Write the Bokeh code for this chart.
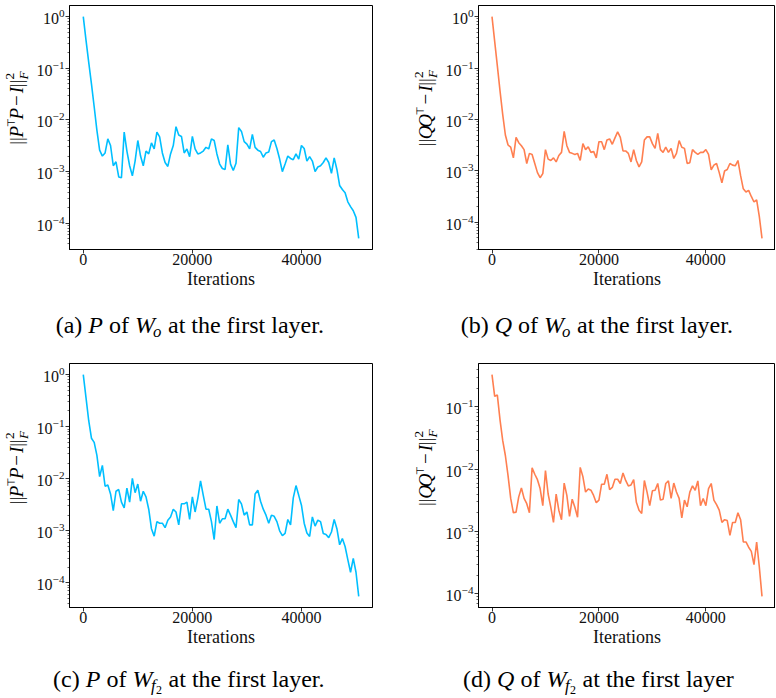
import math
import numpy as np
from bokeh.plotting import figure
from bokeh.layouts import row, column
from bokeh.models import Range1d, FixedTicker, LogTickFormatter
from bokeh.core.properties import value
from bokeh.embed import file_html
from bokeh.resources import INLINE

# ---------------- data ----------------
iterations = list(range(0, 50501, 500))

p_wo = [1.0, 3.5e-1, 1.3e-1, 5.0e-2, 1.8e-2, 6.3e-3,
        2.6e-3, 2.0e-3, 2.3e-3, 4.3e-3, 3.2e-3, 1.3e-3, 1.55e-3, 7.9e-4, 7.6e-4, 5.8e-3,
        2.5e-3, 1.3e-3, 8.3e-4, 1.6e-3, 4.0e-3, 2.0e-3, 1.3e-3, 2.5e-3, 2.2e-3, 3.6e-3,
        2.75e-3, 5.8e-3, 4.7e-3, 2.3e-3, 1.5e-3, 1.26e-3, 2.2e-3, 3.2e-3, 7.4e-3, 5.1e-3,
        4.8e-3, 2.3e-3, 2.75e-3, 1.95e-3, 4.8e-3, 2.75e-3, 2.2e-3, 2.3e-3, 2.5e-3, 2.95e-3,
        2.75e-3, 4.3e-3, 4.0e-3, 2.2e-3, 1.4e-3, 1.15e-3, 1.1e-3, 3.3e-3, 1.4e-3, 1.05e-3,
        1.45e-3, 7.1e-3, 6.0e-3, 3.8e-3, 3.4e-3, 2.75e-3, 5.25e-3, 2.95e-3, 2.6e-3, 2.45e-3,
        1.9e-3, 2.3e-3, 2.4e-3, 3.8e-3, 4.1e-3, 2.8e-3, 1.75e-3, 1.0e-3, 1.4e-3, 2.0e-3,
        1.8e-3, 1.7e-3, 2.2e-3, 1.75e-3, 3.2e-3, 2.8e-3, 1.6e-3, 1.95e-3, 1.6e-3, 1.0e-3,
        1.23e-3, 1.3e-3, 1.5e-3, 1.85e-3, 1.5e-3, 9.3e-4, 1.85e-3, 1.1e-3, 5.4e-4, 4.5e-4,
        3.9e-4, 2.6e-4, 2.1e-4, 1.75e-4, 1.3e-4, 5.1e-5]

q_wo = [1.0, 3.3e-1, 1.1e-1, 3.6e-2, 1.26e-2, 5.0e-3,
        3.2e-3, 2.9e-3, 1.8e-3, 4.5e-3, 3.55e-3, 3.1e-3, 2.6e-3, 1.4e-3, 2.2e-3, 2.1e-3,
        1.4e-3, 9.3e-4, 7.4e-4, 8.9e-4, 2.6e-3, 1.7e-3, 1.6e-3, 1.8e-3, 1.5e-3, 2.0e-3,
        2.3e-3, 5.9e-3, 3.1e-3, 2.3e-3, 2.2e-3, 2.1e-3, 2.2e-3, 1.6e-3, 3.4e-3, 2.6e-3,
        2.95e-3, 2.3e-3, 2.4e-3, 1.8e-3, 3.7e-3, 3.7e-3, 2.6e-3, 4.0e-3, 4.2e-3, 3.3e-3,
        4.4e-3, 5.75e-3, 4.5e-3, 2.45e-3, 2.45e-3, 2.2e-3, 1.5e-3, 2.6e-3, 1.6e-3, 1.2e-3,
        1.5e-3, 4.0e-3, 4.6e-3, 4.6e-3, 3.4e-3, 2.75e-3, 5.4e-3, 2.6e-3, 2.3e-3, 2.9e-3,
        2.3e-3, 2.75e-3, 1.75e-3, 2.2e-3, 3.9e-3, 2.9e-3, 2.75e-3, 1.4e-3, 1.45e-3, 2.6e-3,
        2.3e-3, 2.1e-3, 2.3e-3, 2.3e-3, 2.6e-3, 2.1e-3, 1.05e-3, 1.3e-3, 1.4e-3, 9.3e-4,
        5.9e-4, 1.0e-3, 1.07e-3, 1.4e-3, 1.3e-3, 1.26e-3, 1.6e-3, 8.1e-4, 4.5e-4, 3.9e-4,
        4.2e-4, 3.2e-4, 2.5e-4, 2.75e-4, 1.3e-4, 4.9e-5]

p_wf2 = [1.0, 3.6e-1, 1.3e-1, 6.0e-2, 5.0e-2, 2.8e-2,
         1.1e-2, 1.8e-2, 7.2e-3, 7.6e-3, 5.1e-3, 2.45e-3, 5.75e-3, 6.2e-3, 3.55e-3, 2.75e-3,
         6.6e-3, 3.55e-3, 1.02e-2, 5.4e-3, 7.9e-3, 3.7e-3, 5.75e-3, 4.5e-3, 2.6e-3, 1.1e-3,
         7.9e-4, 1.5e-3, 1.4e-3, 1.4e-3, 1.15e-3, 1.6e-3, 1.85e-3, 2.6e-3, 2.3e-3, 1.3e-3,
         3.3e-3, 3.3e-3, 3.55e-3, 1.65e-3, 4.5e-3, 2.3e-3, 4.2e-3, 9.1e-3, 4.8e-3, 2.6e-3,
         2.6e-3, 1.5e-3, 6.8e-4, 3.0e-3, 1.4e-3, 1.7e-3, 1.7e-3, 2.6e-3, 2.0e-3, 1.5e-3,
         1.15e-3, 4.0e-3, 3.3e-3, 2.0e-3, 2.3e-3, 1.3e-3, 1.3e-3, 5.1e-3, 6.0e-3, 3.7e-3,
         2.6e-3, 2.0e-3, 1.4e-3, 2.0e-3, 1.9e-3, 1.5e-3, 1.0e-3, 8.1e-4, 8.9e-4, 1.65e-3,
         1.3e-3, 4.3e-3, 7.4e-3, 4.8e-3, 3.1e-3, 1.4e-3, 9.1e-4, 7.8e-4, 1.85e-3, 1.23e-3,
         1.6e-3, 1.5e-3, 8.9e-4, 8.5e-4, 7.4e-4, 9.5e-4, 1.65e-3, 1.1e-3, 5.4e-4, 7.1e-4,
         5.0e-4, 2.8e-4, 1.6e-4, 2.95e-4, 1.6e-4, 5.5e-5]

q_wf2 = [3.3e-1, 1.48e-1, 1.55e-1, 6.2e-2, 2.9e-2, 1.66e-2,
         7.9e-3, 3.4e-3, 2.0e-3, 2.05e-3, 3.6e-3, 5.0e-3, 3.4e-3, 2.8e-3, 2.0e-3, 1.05e-2,
         8.3e-3, 6.8e-3, 4.9e-3, 2.6e-3, 9.5e-3, 4.0e-3, 2.45e-3, 1.4e-3, 4.0e-3, 2.2e-3,
         1.55e-3, 6.0e-3, 3.8e-3, 1.75e-3, 3.3e-3, 2.45e-3, 1.7e-3, 1.07e-2, 7.6e-3, 4.3e-3,
         4.8e-3, 4.6e-3, 3.8e-3, 2.9e-3, 3.2e-3, 5.75e-3, 5.75e-3, 8.3e-3, 4.7e-3, 5.1e-3,
         6.9e-3, 6.9e-3, 5.9e-3, 8.7e-3, 6.6e-3, 5.4e-3, 5.6e-3, 6.8e-3, 2.95e-3, 2.2e-3,
         1.95e-3, 6.6e-3, 4.3e-3, 2.6e-3, 4.5e-3, 4.6e-3, 5.9e-3, 3.2e-3, 3.3e-3, 5.9e-3,
         6.5e-3, 3.4e-3, 6.0e-3, 4.3e-3, 3.4e-3, 1.65e-3, 3.2e-3, 2.5e-3, 4.3e-3, 5.4e-3,
         4.6e-3, 6.5e-3, 2.6e-3, 3.4e-3, 2.6e-3, 4.9e-3, 5.9e-3, 3.2e-3, 2.7e-3, 2.2e-3,
         1.4e-3, 1.55e-3, 1.5e-3, 8.7e-4, 1.4e-3, 1.4e-3, 2.0e-3, 1.55e-3, 6.8e-4, 6.8e-4,
         5.6e-4, 4.8e-4, 2.95e-4, 6.8e-4, 2.7e-4, 9.1e-5]

x_ticks = [0, 20000, 40000]
y_ticks = [1e-4, 1e-3, 1e-2, 1e-1, 1e0]
x_label = "Iterations"

BLUE = "#00BFFF"
ORANGE = "#FF7F50"
SERIF = "Liberation Serif"

# ---------------- text layout helpers ----------------
W_REG = {' ': 250, '(': 333, ')': 333, 'a': 444, 'b': 500, 'c': 444, 'd': 500, 'e': 444,
         'f': 333, 'h': 500, 'i': 278, 'l': 278, 'o': 500, 'r': 333, 's': 389, 't': 278,
         'y': 500, '.': 250, '|': 200, '2': 500, '\u2212': 564, '\u22a4': 838}
W_IT = {' ': 250, 'P': 611, 'Q': 722, 'W': 833, 'o': 500, 'f': 278, 'I': 333, 'F': 611}
BASE_FIX = 0.30  # empirical baseline correction, fraction of font size


def text_w(text, style):
    tbl = W_IT if style == "italic" else W_REG
    return sum(tbl.get(ch, 500) for ch in text) / 1000.0


def layout_runs(runs, S):
    """runs: (text, style, size_factor, shift_factor, font, kern_before, advance)"""
    out = []
    a = 0.0
    pending = 0.0
    for text, style, sf, sh, font, kern, adv in runs:
        a += kern * S
        lead = len(text) - len(text.lstrip(' '))
        w = text_w(text, style) * sf * S
        lead_w = text_w(' ' * lead, style) * sf * S
        out.append((text.strip(' '), style, sf * S, sh * S, font, a + lead_w))
        if adv:
            a += max(w, pending)
            pending = 0.0
        else:
            pending = w
    return out, a


def draw_runs(p, runs, S, x0, y0, rotated=False):
    out, total = layout_runs(runs, S)
    start = (y0 if rotated else x0) - total / 2.0
    for text, style, size, shift, font, off in out:
        up = shift + BASE_FIX * size
        if rotated:
            x, y, ang = x0 - up, start + off, math.pi / 2
        else:
            x, y, ang = start + off, y0 + up, 0.0
        p.text(x=[x], y=[y], text=[text], angle=ang,
               text_font=value(font), text_font_style=style,
               text_font_size=value("%.1fpx" % size), text_color="black",
               text_align="left", text_baseline="alphabetic")


def ylabel_runs(letter):
    R = "normal"
    I = "italic"
    if letter == "P":
        mid = [("P", I, 1, 0, SERIF, 0.02, True),
               ("\u22a4", R, 0.55, 0.45, "DejaVu Sans", 0.06, True),
               ("P", I, 1, 0, SERIF, 0.04, True)]
    else:
        mid = [("Q", I, 1, 0, SERIF, 0.02, True),
               ("Q", I, 1, 0, SERIF, 0.02, True),
               ("\u22a4", R, 0.55, 0.45, "DejaVu Sans", 0.06, True)]
    return ([("|", R, 1, 0, SERIF, 0, True), ("|", R, 1, 0, SERIF, 0.04, True)] + mid +
            [("\u2212", R, 1, 0, SERIF, 0.26, True),
             ("I", I, 1, 0, SERIF, 0.26, True),
             ("|", R, 1, 0, SERIF, 0.06, True), ("|", R, 1, 0, SERIF, 0.04, True),
             ("2", R, 0.7, 0.45, SERIF, 0.06, False),
             ("F", I, 0.7, -0.25, SERIF, 0, True)])


def caption_runs(tag, letter, sub):
    R = "normal"
    I = "italic"
    runs = [(tag, R, 1, 0, SERIF, 0, True),
            (" " + letter, I, 1, 0, SERIF, 0, True),
            (" of", R, 1, 0, SERIF, 0, True),
            (" W", I, 1, 0, SERIF, 0, True)]
    if sub == "o":
        runs += [("o", I, 0.7, -0.2, SERIF, -0.08, True)]
    else:
        runs += [("f", I, 0.7, -0.18, SERIF, -0.06, True),
                 ("2", R, 0.5, -0.28, SERIF, 0.02, True)]
    end = " at the first layer" if tag == "(d)" else " at the first layer."
    runs += [(end, R, 1, 0, SERIF, 0.02, True)]
    return runs


# ---------------- figures ----------------
def panel(vals, color, width, height, bl, br, bt, bb):
    xmax = max(iterations)
    lo, hi = math.log10(min(vals)), math.log10(max(vals))
    pad = 0.05 * (hi - lo)
    p = figure(width=width, height=height, y_axis_type="log",
               x_range=Range1d(-0.05 * xmax, 1.05 * xmax),
               y_range=Range1d(10 ** (lo - pad), 10 ** (hi + pad)),
               output_backend="svg", toolbar_location=None,
               min_border_left=bl, min_border_right=br,
               min_border_top=bt, min_border_bottom=bb)
    p.line(iterations, vals, line_color=color, line_width=1.6)
    p.grid.visible = False
    p.outline_line_color = "black"
    p.outline_line_width = 1
    p.outline_line_alpha = 1.0
    minors = [m * 10.0 ** k for k in range(-6, 1) for m in range(2, 10)]
    p.yaxis.ticker = FixedTicker(ticks=y_ticks, minor_ticks=minors)
    p.yaxis.formatter = LogTickFormatter()
    p.xaxis.ticker = FixedTicker(ticks=x_ticks)
    p.xaxis.axis_label = x_label
    for ax in (p.xaxis[0], p.yaxis[0]):
        ax.axis_line_color = "black"
        ax.major_tick_line_color = "black"
        ax.major_tick_line_width = 0.8
        ax.major_tick_in = 0
        ax.major_tick_out = 4
        ax.major_label_text_font = SERIF
        ax.major_label_text_font_size = "16px"
        ax.major_label_text_color = "#111111"
        ax.axis_label_text_font = SERIF
        ax.axis_label_text_font_style = "normal"
        ax.axis_label_text_font_size = "18px"
        ax.axis_label_text_color = "#111111"
    p.xaxis.major_label_standoff = 0
    p.xaxis.axis_label_standoff = 1
    p.xaxis.minor_tick_line_color = None
    p.yaxis.major_label_standoff = 1
    p.yaxis.minor_tick_in = 0
    p.yaxis.minor_tick_out = 2
    p.yaxis.minor_tick_line_width = 0.6
    p.yaxis.minor_tick_line_color = "black"
    return p


def blank(width, height):
    p = figure(width=width, height=height, x_range=Range1d(0, width),
               y_range=Range1d(0, height), x_axis_location=None,
               y_axis_location=None, output_backend="svg",
               toolbar_location=None, min_border=0)
    p.outline_line_color = None
    p.grid.visible = False
    return p


S_LAB = 19
S_CAP = 24

# Row 1 (frames at y 5..249); columns: ylA 0-30, pA 30-406, ylB 406-440, pB 440-775
H1 = 300
ylA = blank(30, H1)
draw_runs(ylA, ylabel_runs("P"), S_LAB, 22, H1 - 127, rotated=True)
pA = panel(p_wo, BLUE, 376, H1, 39, 34, 5, 51)
ylB = blank(34, H1)
draw_runs(ylB, ylabel_runs("Q"), S_LAB, 25, H1 - 127, rotated=True)
pB = panel(q_wo, ORANGE, 335, H1, 38, 0, 5, 51)

HC1 = 56
cap1 = blank(775, HC1)
draw_runs(cap1, caption_runs("(a)", "P", "o"), S_CAP, 190, HC1 - 31.5)
draw_runs(cap1, caption_runs("(b)", "Q", "o"), S_CAP, 597, HC1 - 31.5)

# Row 2 (frames at y 363..607)
H2 = 300
ylC = blank(30, H2)
draw_runs(ylC, ylabel_runs("P"), S_LAB, 22, H2 - 129, rotated=True)
pC = panel(p_wf2, BLUE, 376, H2, 39, 34, 7, 49)
ylD = blank(34, H2)
draw_runs(ylD, ylabel_runs("Q"), S_LAB, 25, H2 - 129, rotated=True)
pD = panel(q_wf2, ORANGE, 335, H2, 38, 0, 7, 49)

HC2 = 41
cap2 = blank(775, HC2)
draw_runs(cap2, caption_runs("(c)", "P", "f2"), S_CAP, 189, HC2 - 30.0)
draw_runs(cap2, caption_runs("(d)", "Q", "f2"), S_CAP, 598, HC2 - 30.0)

layout = column(row(ylA, pA, ylB, pB), cap1, row(ylC, pC, ylD, pD), cap2)

open("out.html", "w").write(file_html(layout, INLINE))
